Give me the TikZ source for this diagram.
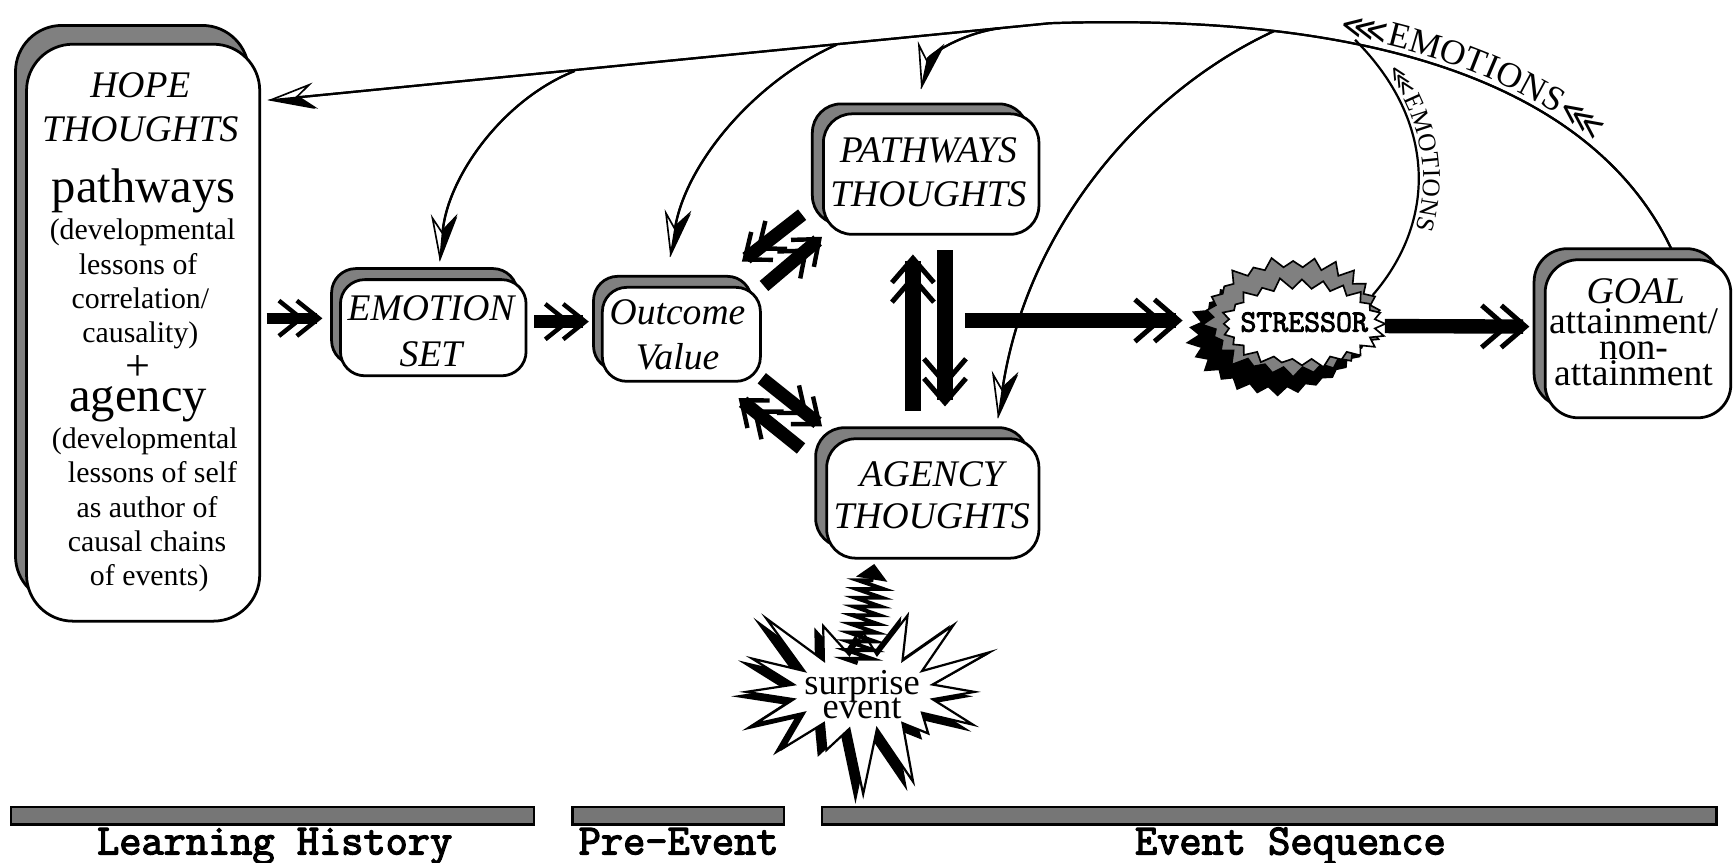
\documentclass[tikz,border=0pt]{standalone}
\usepackage{fontspec}
\setmainfont{Liberation Serif}
\newfontfamily\djv{DejaVu Sans}
\newfontfamily\courb[FakeBold=3]{Latin Modern Mono}
\usetikzlibrary{arrows.meta,shadows,shapes.symbols,decorations.text,decorations.pathmorphing,calc}
\definecolor{shgray}{HTML}{808080}
\definecolor{bargray}{HTML}{767676}
\newcommand\fsz[1]{\fontsize{#1}{#1}\selectfont}
\tikzset{
  box/.style n args={3}{draw=black, line width=2.5pt, fill=white, rectangle, rounded corners=#1, inner sep=0pt,
     copy shadow={shadow xshift=#2, shadow yshift=#3, fill=shgray, draw=black, line width=2.5pt}},
  itl/.style={font=\itshape\fsz{34}, inner sep=0pt, anchor=base},
  txt/.style={font=\fsz{#1}, inner sep=0pt, anchor=base},
  thk/.style={line width=#1, -{Straight Barb[length=20pt,width=32pt,line width=4pt,sep=-9pt]Straight Barb[length=20pt,width=32pt,line width=4pt]}},
  thk/.default=12pt,
  thkb/.style={line width=#1, -{Straight Barb[length=22pt,width=38pt,line width=4.5pt,sep=-10pt]Straight Barb[length=22pt,width=38pt,line width=4.5pt]}},
  thkb/.default=13pt,
  thn/.style={line width=2pt,
     preaction={draw, line width=2pt, -{Stealth[length=42pt,width=24pt,inset=15pt,fill=white,line width=1.5pt]}},
     -{Stealth[harpoon,length=42pt,width=24pt,inset=15pt,line width=1.5pt]}},
  bar/.style={draw=black, line width=2pt, fill=bargray, minimum height=16pt, inner sep=0pt},
  lbl/.style={font=\courb\fsz{39}, inner sep=0pt, anchor=base},
  burst/.style={starburst, draw=black, line width=1.5pt, inner sep=0pt},
}
\begin{document}
\begin{tikzpicture}[x=1pt,y=-1pt]
\useasboundingbox (0,0) rectangle (1568,780);
% boxes
\node[box={42pt}{-10pt}{17pt}, minimum width=211pt, minimum height=522pt] (hope) at (129.5,301) {};
\node[box={22pt}{-8pt}{10pt}, minimum width=168pt, minimum height=87pt] (emo) at (392,296.5) {};
\node[box={22pt}{-8pt}{10pt}, minimum width=143pt, minimum height=85pt] (outc) at (616.5,302.5) {};
\node[box={26pt}{-10pt}{9pt}, minimum width=195pt, minimum height=109pt] (path) at (842.5,157.5) {};
\node[box={26pt}{-10pt}{10pt}, minimum width=192pt, minimum height=108pt] (agen) at (844,451) {};
\node[box={30pt}{-10pt}{10pt}, minimum width=168pt, minimum height=143pt] (goal) at (1482,306.5) {};
% hope text
\node[itl] (h1) at (127,88) {HOPE};
\node[itl] (h2) at (127,128) {THOUGHTS};
\node[txt=44] (h3) at (130,183) {pathways};
\node[txt=27] (h4) at (129,217) {(developmental};
\node[txt=27] (h5) at (125,248) {lessons of};
\node[txt=27] (h6) at (127,279) {correlation/};
\node[txt=27] (h7) at (127,310) {causality)};
\node[txt=40] (h8) at (125,344) {+};
\node[txt=44] (h9) at (125,372) {agency};
\node[txt=27] (h10) at (131,406) {(developmental};
\node[txt=27] (h11) at (138,437) {lessons of self};
\node[txt=27] (h12) at (133,468) {as author of};
\node[txt=27] (h13) at (133,499) {causal chains};
\node[txt=27] (h14) at (135,530) {of events)};
% other texts
\node[itl] (e1) at (390,290) {EMOTION};
\node[itl] (e2) at (390,332) {SET};
\node[itl] (o1) at (613,294) {Outcome};
\node[itl] (o2) at (613,334) {Value};
\node[itl] (p1) at (840,147) {PATHWAYS};
\node[itl] (p2) at (840,187) {THOUGHTS};
\node[itl] (a1) at (843,440) {AGENCY};
\node[itl] (a2) at (843,478) {THOUGHTS};
\node[itl] (g1) at (1480,275) {GOAL};
\node[txt=34] (g2) at (1478,302) {attainment/};
\node[txt=34] (g3) at (1478,325) {non-};
\node[txt=34] (g4) at (1478,349) {attainment};
% stressor
\node[burst, starburst points=26, starburst point height=12pt, random starburst=7, minimum width=165pt, minimum height=118pt, fill=black] (strB) at (1156,303) {};
\node[burst, starburst points=26, starburst point height=12pt, random starburst=9, minimum width=168pt, minimum height=115pt, fill=shgray] (strG) at (1170,287) {};
\node[burst, starburst points=24, starburst point height=11pt, random starburst=11, minimum width=155pt, minimum height=86pt, fill=white] (stress) at (1178,293) {};
\node[font=\courb\fsz{28}, anchor=base, inner sep=0pt] (strT) at (1180,300) {STRESSOR};
% surprise event
\node[burst, line width=2pt, starburst points=16, starburst point height=62pt, random starburst=3, minimum width=252pt, minimum height=192pt, fill=white,
   copy shadow={shadow xshift=-7pt, shadow yshift=-4pt, fill=black, draw=black}] (surp) at (781,626) {};
\coordinate (zz) at ($(surp.center)+(-5,-26)$);
\draw[line width=3.5pt, decorate, decoration={zigzag, segment length=8pt, amplitude=12pt, post length=14pt}, -{Triangle[length=14pt,width=28pt]}] (zz) -- ($(agen.south)+(-53,4)$);
\node[txt=33] (s1) at (780,628) {surprise};
\node[txt=33] (s2) at (780,650) {event};
% thick arrows
\draw[thk=10pt] ($(hope.east)+(5,-13)$) -- ($(emo.west)+(-15,-8.5)$);
\draw[thk] ($(emo.east)+(6,-5.5)$) -- ($(outc.west)+(-11,-11.5)$);
\draw[thk] ($(outc.north east)+(2,0)$) -- ($(path.south west)+(0,1)$);
\draw[thk] ($(path.south west)+(-18,-19)$) -- ($(outc.north east)+(-18,-22)$);
\draw[thk] ($(outc.south east)+(0,-4)$) -- ($(agen.north west)+(-3,-10)$);
\draw[thk] ($(agen.north west)+(-22,10)$) -- ($(outc.south east)+(-21,14)$);
\draw[thkb=14pt] ($(agen.north)+(-18,-24)$) -- ($(path.south)+(-16.5,17)$);
\draw[thkb=14pt] ($(path.south)+(12.5,13)$) -- ($(agen.north)+(11,-28)$);
\coordinate (hstart) at (873,290);
\draw[thkb] (hstart) -- ($(stress.center)+(-108,-3)$);
\draw[thkb] ($(stress.center)+(75,2)$) -- ($(goal.west)+(-13,-11)$);
% thin curves
\coordinate (gtop) at ($(goal.north)+(30,-9)$);
\coordinate (ltop) at (950,21);
\coordinate (hopetip) at ($(hope.north east)+(6,52)$);
\coordinate (b1) at (520,64.2);
\coordinate (b2) at (757,40.4);
\coordinate (b3) at (905,25.5);
\coordinate (b4) at (1153,28);
\coordinate (b5) at (1226,36);
\coordinate (strtop) at ($(stress.center)+(64,-26)$);
\draw[thn] (gtop) .. controls (1450,95) and (1280,10) .. (ltop) -- (hopetip);
\draw[thn] (b1) .. controls (455,90) and (405,160) .. ($(emo.north)+(6,-15)$);
\draw[thn] (b2) .. controls (680,75) and (620,150) .. ($(outc.north)+(-10,-26)$);
\draw[thn] (b3) .. controls (870,30) and (840,50) .. ($(path.north)+(-9,-21)$);
\draw[thn] (b4) .. controls (1040,80) and (930,200) .. ($(agen.north)+(59,-17)$);
\draw[line width=2pt] (b5) .. controls (1300,110) and (1300,200) .. (strtop);
\path[decorate, decoration={text along path, text={|\djv\fsz{30}|⋘|\rmfamily\fsz{32}|EMOTIONS|\djv\fsz{30}|⋘}, text align={left indent=262pt}, raise=5pt}] (ltop) .. controls (1280,10) and (1450,95) .. (gtop);
\path[decorate, decoration={text along path, text={|\djv\fsz{20}|⋘|\rmfamily\fsz{23}|EMOTIONS}, text align={left indent=40pt}, raise=4pt}] (b5) .. controls (1300,110) and (1300,200) .. (strtop);
% bars
\node[bar, minimum width=473pt] (bar1) at (246.5,738) {};
\node[bar, minimum width=191pt] (bar2) at (613.5,738) {};
\node[bar, minimum width=809pt] (bar3) at (1148.5,738) {};
\node[lbl] (l1) at (248.5,773) {Learning History};
\node[lbl] (l2) at (614,773) {Pre-Event};
\node[lbl] (l3) at (1167.5,773) {Event Sequence};
\end{tikzpicture}
\end{document}
